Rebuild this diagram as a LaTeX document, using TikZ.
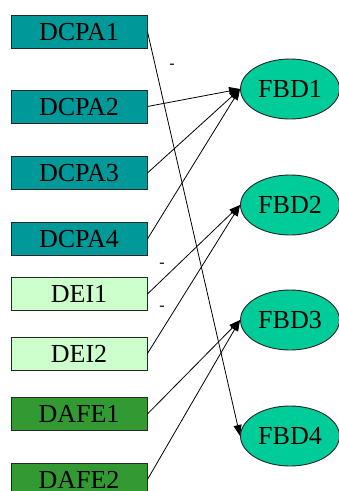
\documentclass[tikz,border=0pt]{standalone}
\usepackage{fontspec}
\setmainfont{Liberation Serif}
\usetikzlibrary{arrows.meta,shapes.geometric}
\definecolor{dcpa}{HTML}{009999}
\definecolor{dei}{HTML}{CCFFCC}
\definecolor{dafe}{HTML}{339933}
\definecolor{fbd}{HTML}{00CC99}
\tikzset{
  src/.style={draw=black!85, line width=0.9pt, minimum width=136pt, minimum height=33pt, inner sep=0pt,
    font=\fontsize{26}{26}\selectfont, text depth=0pt, text height=17.5pt},
  tgt/.style={ellipse, draw=black!85, fill=fbd, line width=0.9pt, minimum width=99pt, minimum height=60pt, inner sep=0pt,
    font=\fontsize{26}{26}\selectfont},
  conn/.style={line width=0.8pt, -{Triangle[length=11pt,width=8pt]}},
  lbl/.style={font=\fontsize{16}{16}\selectfont, inner sep=0pt}
}
\begin{document}
\begin{tikzpicture}[x=1pt,y=-1pt]
\useasboundingbox (0,0) rectangle (339,491);
\node[src, fill=dcpa] (dcpa1) at (79,31.5) {DCPA1};
\node[src, fill=dcpa] (dcpa2) at (79,106.5) {DCPA2};
\node[src, fill=dcpa] (dcpa3) at (79,173) {DCPA3};
\node[src, fill=dcpa] (dcpa4) at (79,239) {DCPA4};
\node[src, fill=dei] (dei1) at (79,294) {DEI1};
\node[src, fill=dei] (dei2) at (79,353.5) {DEI2};
\node[src, fill=dafe] (dafe1) at (79,414) {DAFE1};
\node[src, fill=dafe] (dafe2) at (79,479.5) {DAFE2};
\node[tgt] (fbd1) at (290,89) {FBD1};
\node[tgt] (fbd2) at (290,205) {FBD2};
\node[tgt] (fbd3) at (290,320) {FBD3};
\node[tgt] (fbd4) at (290,436) {FBD4};
\draw[conn] (dcpa1.east) -- (fbd4.west);
\draw[conn] (dcpa2.east) -- (fbd1.west);
\draw[conn] (dcpa3.east) -- (fbd1.west);
\draw[conn] (dcpa4.east) -- (fbd1.west);
\draw[conn] (dei1.east) -- (fbd2.west);
\draw[conn] (dei2.east) -- (fbd2.west);
\draw[conn] (dafe1.east) -- (fbd3.west);
\draw[conn] (dafe2.east) -- (fbd3.west);
\node[lbl] (l1) at (172,66) {-};
\node[lbl] (l2) at (162,265) {-};
\node[lbl] (l3) at (162,308) {-};
\end{tikzpicture}
\end{document}
